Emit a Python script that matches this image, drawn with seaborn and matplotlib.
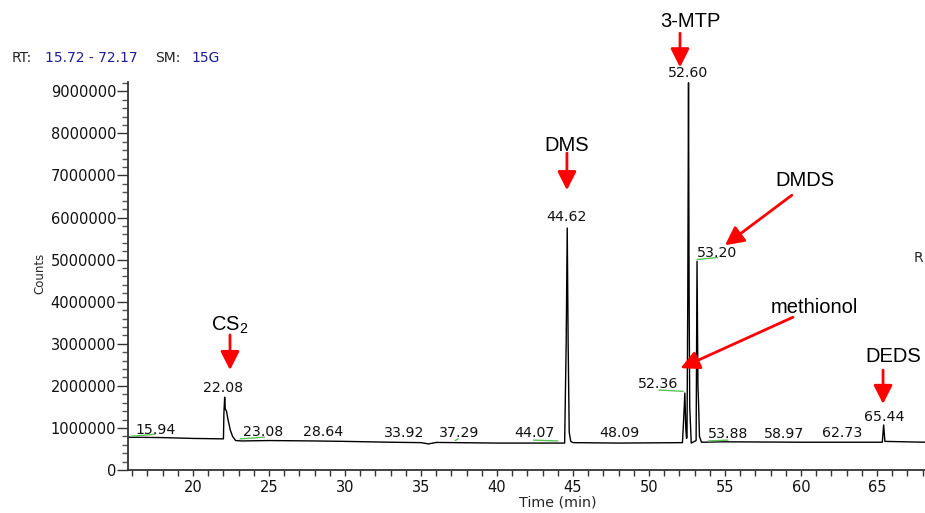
import seaborn as sns
import pandas as pd
import numpy as np
import matplotlib.pyplot as plt
from matplotlib.ticker import MultipleLocator

# chromatogram trace (time in min, counts)
trace_time = [15.72, 18.0, 20.0, 22.0, 22.03, 22.08, 22.12, 22.2, 22.3, 22.45, 22.6, 22.8,
              23.2, 25.0, 28.0, 30.0, 33.0, 35.0, 35.5, 36.0, 40.0, 44.45, 44.55, 44.62,
              44.68, 44.75, 44.85, 45.0, 48.0, 52.2, 52.28, 52.36, 52.42, 52.47, 52.5,
              52.55, 52.6, 52.64, 52.68, 52.78, 53.1, 53.16, 53.22, 53.26, 53.32, 53.45,
              55.0, 60.0, 65.35, 65.44, 65.52, 68.16]
trace_counts = [780000, 770000, 750000, 740000, 1350000, 1730000, 1450000, 1400000, 1200000,
                950000, 800000, 700000, 690000, 700000, 690000, 680000, 660000, 650000,
                620000, 655000, 640000, 640000, 3000000, 5750000, 3000000, 900000, 680000,
                650000, 640000, 650000, 1200000, 1830000, 1000000, 750000, 780000, 4000000,
                9200000, 4100000, 1500000, 640000, 700000, 4960000, 2000000, 1600000, 800000,
                660000, 670000, 660000, 660000, 1070000, 680000, 660000]

# retention time labels
rt_labels = ['15.94', '23.08', '28.64', '33.92', '37.29', '44.07', '48.09', '53.88',
             '58.97', '62.73', '22.08', '44.62', '52.36', '52.60', '53.20', '65.44']

# integration marks (green) : start/end time and counts
mark_t0 = [15.9, 23.1, 37.25, 42.4, 50.65, 53.16, 53.9]
mark_t1 = [17.5, 24.7, 37.45, 44.0, 52.25, 54.5, 55.2]
mark_c0 = [800000, 740000, 700000, 710000, 1900000, 5000000, 690000]
mark_c1 = [850000, 780000, 740000, 690000, 1870000, 5050000, 710000]

# compounds
compounds = ['CS$_2$', 'DMS', '3-MTP', 'DMDS', 'methionol', 'DEDS']

# placement of the labels
rt_pos = {'15.94': (17.57, 950000), '23.08': (24.6, 900000), '28.64': (28.57, 895000),
          '33.92': (33.88, 870000), '37.29': (37.5, 870000), '44.07': (42.43, 880000),
          '48.09': (48.03, 880000), '53.88': (55.2, 855000), '58.97': (58.9, 855000),
          '62.73': (62.7, 880000), '22.08': (22.0, 1940000), '44.62': (44.6, 6010000),
          '52.36': (50.6, 2040000), '52.60': (52.59, 9440000), '53.20': (54.5, 5160000),
          '65.44': (65.46, 1260000)}
comp_pos = {'CS$_2$': (22.43, 3440000), 'DMS': (44.6, 7720000), '3-MTP': (52.74, 10650000),
            'DMDS': (60.26, 6890000), 'methionol': (60.9, 3870000), 'DEDS': (66.1, 2690000)}
arrows = {'CS$_2$': ((22.43, 3210000), (22.43, 2375000)),
          'DMS': ((44.6, 7530000), (44.6, 6650000)),
          '3-MTP': ((52.04, 10380000), (52.04, 9570000)),
          'DMDS': ((59.4, 6530000), (55.0, 5340000)),
          'methionol': ((59.47, 3630000), (52.08, 2420000)),
          'DEDS': ((65.4, 2375000), (65.4, 1570000))}

sns.set_theme(style='ticks')
plt.rcParams['font.family'] = ['DejaVu Sans']
plt.rcParams['mathtext.default'] = 'regular'

fig = plt.figure(figsize=(9.25, 5.13), dpi=100)
ax = fig.add_axes([128 / 925, 43 / 513, 797 / 925, 388 / 513])

df = pd.DataFrame({'time': trace_time, 'counts': trace_counts})
sns.lineplot(data=df, x='time', y='counts', ax=ax, color='black', lw=1.0)

for t0, t1, c0, c1 in zip(mark_t0, mark_t1, mark_c0, mark_c1):
    ax.plot([t0, t1], [c0, c1], color='#5cc05c', lw=1.0)

for lab in rt_labels:
    x, y = rt_pos[lab]
    ax.text(x, y, lab, ha='center', va='center', fontsize=10.2, color='#111111')

narrow = ['Liberation Sans', 'DejaVu Sans']
for comp in compounds:
    x, y = comp_pos[comp]
    ax.text(x, y, comp, ha='center', va='center', fontsize=14.5, family=narrow,
            color='black', clip_on=False)
    tail, tip = arrows[comp]
    ax.annotate('', xy=tip, xytext=tail, annotation_clip=False,
                arrowprops=dict(arrowstyle='-|>,head_length=0.75,head_width=0.38',
                                mutation_scale=15, color='red', lw=2,
                                shrinkA=0, shrinkB=0))

ax.set_xlim(15.72, 68.16)
ax.set_ylim(0, 9220000)
ax.xaxis.set_major_locator(MultipleLocator(5))
ax.xaxis.set_minor_locator(MultipleLocator(1))
ax.yaxis.set_major_locator(MultipleLocator(1000000))
ax.yaxis.set_minor_locator(MultipleLocator(200000))
ax.ticklabel_format(style='plain', axis='y', useOffset=False)
ax.tick_params(axis='x', which='both', direction='out', length=4.5, width=1,
               labelsize=10.5, pad=3, color='#333333', labelcolor='#111111')
ax.tick_params(axis='y', which='major', direction='out', length=8, width=1,
               labelsize=10.5, pad=0.5, color='#333333', labelcolor='#111111')
ax.tick_params(axis='y', which='minor', direction='out', length=4.5, width=1,
               color='#555555')
sns.despine(ax=ax)
for s in ['left', 'bottom']:
    ax.spines[s].set_linewidth(1.3)
    ax.spines[s].set_color('#333333')

ax.set_xlabel('Time (min)', fontsize=10.3, va='center')
ax.set_ylabel('Counts', fontsize=8.5, va='center')
ax.xaxis.set_label_coords((558 - 128) / 797, -0.085)
ax.yaxis.set_label_coords((40 - 128) / 797, 0.508)

# header
blue = '#1c1c9c'
hy = 1 - 58 / 513
fig.text(12 / 925, hy, 'RT:', fontsize=10, va='center', color='#222222')
fig.text(45 / 925, hy, '15.72 - 72.17', fontsize=10, va='center', color=blue)
fig.text(155 / 925, hy, 'SM:', fontsize=10, va='center', color='#222222')
fig.text(191 / 925, hy, '15G', fontsize=10, va='center', color=blue)
fig.text(918 / 925, 1 - 258 / 513, 'R', fontsize=10, ha='center', va='center')

plt.savefig('out.png', dpi=100)
plt.close()
